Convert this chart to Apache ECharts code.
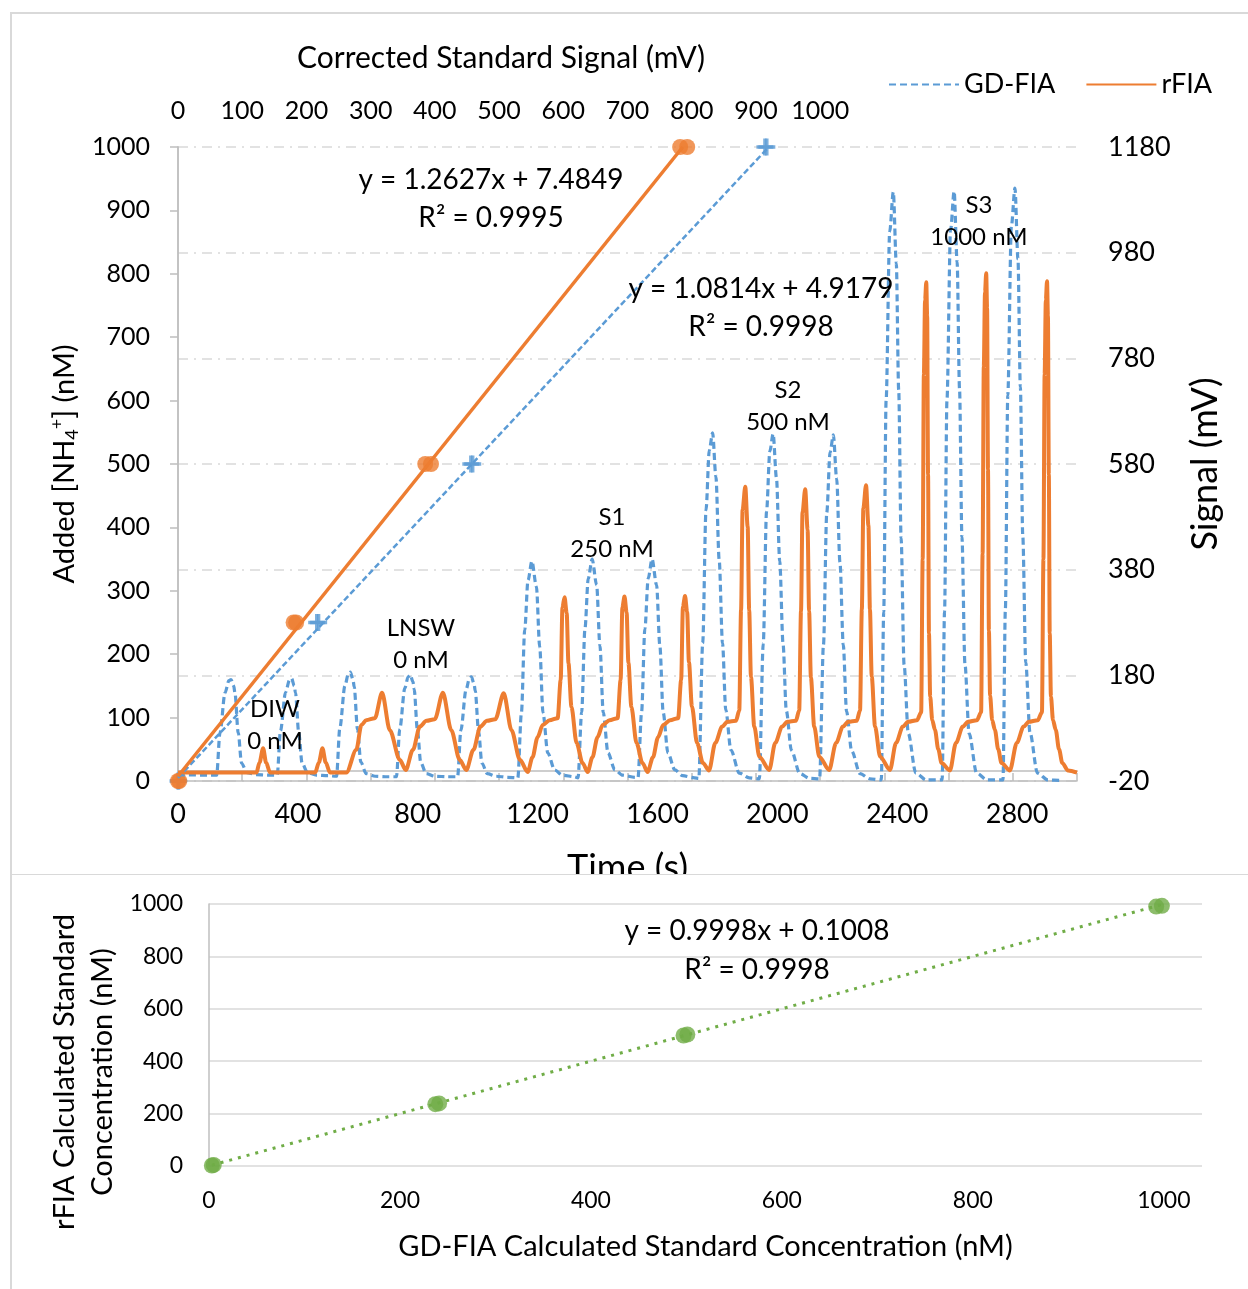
<!DOCTYPE html>
<html>
<head>
<meta charset="utf-8">
<script src="https://cdn.jsdelivr.net/npm/echarts@6/dist/echarts.min.js"></script>
<style>
  html, body { margin: 0; padding: 0; background: #fff; }
  #top { position: absolute; left: 0; top: 0; width: 1248px; height: 874px; }
  #bottom { position: absolute; left: 0; top: 874px; width: 1248px; height: 415px; }
</style>
</head>
<body>
<div id="top"></div>
<div id="bottom"></div>
<script>
const FONT = 'Lato'
const blue = '#5b9bd5', orange = '#ed7d31', green = '#70ad47'
const axisGray = '#bfbfbf', gridGray = '#d9d9d9'

// GD-FIA trace, [time (s), signal (mV)]
const gdfiaDIW = [
  [0, -8], [129, -9], [140, 71], [157, 147], [170, 170], [177, 172], [186, 160], [190, 147], [201, 71], [212, 14], [230, -4], [260, -8], [300, -9],
  [331, -9], [342, 75], [359, 148], [372, 171], [379, 174], [388, 160], [392, 147], [403, 71], [414, 14], [432, -4], [462, -9], [500, -10]
]
const gdfiaLNSW = [
  [529, -11], [540, 80], [557, 160], [568, 182], [575, 186], [584, 172], [588, 158], [599, 78], [610, 16], [628, -6], [658, -11], [700, -12],
  [729, -12], [740, 78], [757, 156], [768, 177], [775, 181], [784, 168], [788, 154], [799, 76], [810, 15], [828, -6], [858, -11], [900, -12],
  [933, -12], [944, 76], [961, 152], [972, 173], [979, 177], [988, 164], [992, 150], [1003, 74], [1014, 14], [1032, -6], [1062, -11], [1100, -13]
]
const gdfiaS1 = [
  [1134, -14], [1146, 109], [1157, 266], [1168, 360], [1181, 396], [1196, 348], [1207, 234], [1218, 109], [1234, 33], [1257, 1], [1283, -9], [1323, -12],
  [1335, -14], [1347, 110], [1358, 268], [1369, 363], [1382, 400], [1397, 351], [1408, 236], [1419, 110], [1435, 33], [1458, 1], [1484, -9], [1524, -13],
  [1535, -14], [1547, 110], [1558, 268], [1569, 363], [1582, 400], [1597, 351], [1608, 236], [1619, 110], [1635, 33], [1658, 1], [1684, -10], [1724, -14]
]
const gdfiaS2 = [
  [1738, -15], [1751, 241], [1762, 493], [1773, 606], [1784, 639], [1795, 556], [1806, 398], [1817, 241], [1828, 114], [1845, 39], [1873, -5], [1906, -14],
  [1940, -16], [1953, 240], [1964, 490], [1975, 604], [1986, 637], [1997, 554], [2008, 396], [2019, 240], [2030, 113], [2047, 38], [2075, -6], [2108, -15],
  [2141, -16], [2154, 238], [2165, 488], [2176, 602], [2187, 635], [2198, 552], [2209, 394], [2220, 238], [2231, 112], [2248, 37], [2276, -6], [2309, -16]
]
const gdfiaS3 = [
  [2347, -18], [2355, 300], [2363, 700], [2375, 1020], [2387, 1095], [2397, 960], [2405, 720], [2413, 440], [2423, 200], [2437, 70], [2462, -5], [2497, -18],
  [2550, -18], [2558, 300], [2566, 700], [2578, 1022], [2590, 1096], [2600, 962], [2608, 722], [2616, 442], [2626, 202], [2640, 70], [2665, -5], [2700, -18],
  [2753, -18], [2761, 305], [2769, 710], [2781, 1030], [2793, 1102], [2803, 968], [2811, 726], [2819, 445], [2829, 204], [2843, 72], [2868, -5], [2903, -18], [2950, -19]
]

// rFIA trace
const rfiaDIW = [
  [0, -4], [262, -4], [272, 15], [284, 42], [294, 15], [307, -4],
  [458, -4], [470, 15], [482, 42], [493, 15], [507, -4], [562, -4]
]
const rfiaLNSW = [
  [595, 39], [612, 86], [628, 95], [657, 99], [681, 147], [707, 76], [740, 20], [760, 1],
  [784, 39], [807, 83], [829, 94], [857, 97], [884, 147], [912, 76], [940, 20], [962, 1],
  [986, 39], [1009, 83], [1031, 94], [1059, 97], [1087, 146], [1113, 76], [1141, 20], [1167, -3]
]
const rfiaS1 = [
  [1183, 25], [1200, 63], [1217, 86], [1240, 95], [1267, 99], [1277, 171], [1283, 309], [1290, 328], [1297, 298], [1303, 203], [1313, 120], [1330, 52], [1350, 14], [1367, -3],
  [1383, 25], [1400, 63], [1417, 86], [1440, 95], [1467, 99], [1477, 171], [1483, 309], [1490, 329], [1497, 299], [1503, 204], [1513, 120], [1530, 52], [1550, 14], [1567, -3],
  [1585, 25], [1602, 63], [1619, 86], [1642, 95], [1669, 99], [1679, 171], [1685, 310], [1692, 330], [1699, 300], [1705, 205], [1715, 121], [1732, 52], [1752, 14], [1772, 0]
]
const rfiaS2 = [
  [1793, 52], [1816, 83], [1833, 92], [1862, 94], [1873, 114], [1879, 304], [1884, 493], [1893, 537], [1901, 461], [1906, 304], [1912, 177], [1923, 83], [1940, 26], [1973, 1],
  [1993, 52], [2016, 83], [2033, 92], [2062, 94], [2073, 114], [2079, 302], [2084, 488], [2093, 532], [2101, 456], [2106, 302], [2112, 176], [2123, 83], [2140, 26], [2173, 1],
  [2196, 52], [2219, 83], [2236, 92], [2265, 94], [2276, 114], [2282, 305], [2287, 496], [2296, 540], [2304, 463], [2309, 305], [2315, 178], [2326, 83], [2343, 26], [2376, 1]
]
const rfiaS3 = [
  [2396, 52], [2419, 83], [2436, 92], [2466, 95], [2480, 110], [2485, 400], [2489, 750], [2493, 890], [2497, 924], [2500, 860], [2503, 560], [2506, 260], [2510, 140], [2517, 95], [2526, 77], [2537, 40], [2548, 14], [2576, 0],
  [2596, 52], [2619, 83], [2636, 92], [2666, 95], [2680, 110], [2685, 410], [2689, 765], [2693, 905], [2697, 941], [2700, 875], [2703, 570], [2706, 265], [2710, 142], [2717, 95], [2726, 77], [2737, 40], [2748, 14], [2776, 0],
  [2799, 52], [2822, 83], [2839, 92], [2869, 95], [2883, 110], [2888, 400], [2892, 750], [2896, 890], [2900, 926], [2903, 860], [2906, 560], [2909, 260], [2913, 140], [2920, 95], [2929, 77], [2940, 40], [2951, 14], [2970, 0], [3000, -4]
]

// standards: corrected signal (mV) vs added NH4+ (nM)
const stdAdded = [0, 0, 250, 250, 500, 500, 1000, 1000]
const gdfiaStdSignal = [0, 1, 216, 219, 456, 459, 914, 917]
const rfiaStdSignal = [0, 2, 180, 184, 385, 394, 782, 793]
const gdfiaFit = [[0, 4.9], [920, 1000]]
const rfiaFit = [[0, 7.5], [786, 1000]]

// calculated concentrations (nM)
const gdfiaCalc = [3, 5, 237, 241, 497, 501, 992, 998]
const rfiaCalc = [2, 4, 236, 239, 498, 502, 990, 993]
const calcFit = [[3, 3.1], [998, 998]]

const topTickLabels = [0, 100, 200, 300, 400, 500, 600, 700, 800, 900, 1000]

const pairs = (xs, ys) => xs.map((x, i) => [x, ys[i]])
const plain = v => String(v)

const text = (str, x, y, size, extra) => Object.assign({
  type: 'text', x: x, y: y, z: 50,
  style: {text: str, fontSize: size, fontFamily: FONT, fill: '#000', align: 'center', verticalAlign: 'middle', lineHeight: 38}
}, extra || {})

const border = (y, h) => ({
  type: 'rect', z: 0, silent: true,
  shape: {x: 11, y: y, width: 1260, height: h},
  style: {fill: 'none', stroke: gridGray, lineWidth: 2}
})

const plus = 'path://M4,0H6V4H10V6H6V10H4V6H0V4H4Z'

const topChart = echarts.init(document.getElementById('top'))
topChart.setOption({
  animation: false,
  textStyle: {fontFamily: FONT, color: '#000'},
  legend: {
    data: ['GD-FIA', 'rFIA'],
    left: 888, top: 71, padding: 0,
    itemWidth: 70, itemHeight: 14, itemGap: 30,
    itemStyle: {opacity: 0},
    textStyle: {fontSize: 27, color: '#000', fontFamily: FONT}
  },
  grid: {left: 178, right: 171, top: 147, bottom: 93, outerBoundsMode: 'none', containLabel: false},
  xAxis: [
    {
      type: 'value', min: 0, max: 3000, interval: 400, position: 'bottom',
      axisLine: {show: true, onZero: true, onZeroAxisIndex: 1, lineStyle: {color: axisGray, width: 1.5}},
      axisTick: {show: false},
      splitLine: {show: false},
      axisLabel: {fontSize: 27, color: '#000', margin: 20, showMaxLabel: false, fontFamily: FONT, formatter: plain},
      name: 'Time (s)', nameLocation: 'middle', nameGap: 69,
      nameTextStyle: {fontSize: 36, color: '#000', fontFamily: FONT}
    },
    {
      type: 'value', min: 0, max: 1400, interval: 100, position: 'top',
      axisLine: {show: true, lineStyle: {color: axisGray, width: 1.5}},
      axisTick: {show: true, length: 8, lineStyle: {color: axisGray, width: 1.5}},
      splitLine: {show: false},
      axisLabel: {
        fontSize: 25, color: '#000', margin: 24, fontFamily: FONT,
        formatter: v => topTickLabels.indexOf(v) >= 0 ? String(v) : ''
      }
    }
  ],
  yAxis: [
    {
      type: 'value', min: 0, max: 1000, interval: 100, position: 'left',
      axisLine: {show: true, lineStyle: {color: axisGray, width: 1.5}},
      axisTick: {show: true, length: 8, lineStyle: {color: axisGray, width: 1.5}},
      splitLine: {show: false},
      axisLabel: {fontSize: 25, color: '#000', margin: 28, fontFamily: FONT, formatter: plain},
      name: 'Added [NH{sub|4}{sup|+}] (nM)', nameLocation: 'middle', nameRotate: 90, nameGap: 93,
      nameTextStyle: {
        fontSize: 29, color: '#000', fontFamily: FONT,
        rich: {
          sub: {fontSize: 18, fontFamily: FONT, color: '#000', padding: [15, 0, 0, 0]},
          sup: {fontSize: 18, fontFamily: FONT, color: '#000', padding: [0, 0, 15, 0]}
        }
      }
    },
    {
      type: 'value', min: -20, max: 1180, interval: 200, position: 'right',
      axisLine: {show: true, lineStyle: {color: axisGray, width: 1.5}},
      axisTick: {show: false},
      splitLine: {show: true, lineStyle: {color: gridGray, width: 1.5, type: [10, 6, 2, 6]}},
      axisLabel: {fontSize: 27, color: '#000', margin: 31, fontFamily: FONT, formatter: plain},
      name: 'Signal (mV)', nameLocation: 'middle', nameRotate: 90, nameGap: 110,
      nameTextStyle: {fontSize: 36, color: '#000', fontFamily: FONT}
    }
  ],
  series: [
    {
      name: 'GD-FIA', type: 'line', xAxisIndex: 0, yAxisIndex: 1,
      data: gdfiaDIW.concat(gdfiaLNSW, gdfiaS1, gdfiaS2, gdfiaS3),
      symbol: 'none', smooth: 0.3, smoothMonotone: 'x',
      lineStyle: {color: blue, width: 3.2, type: [7, 4]},
      itemStyle: {color: blue}
    },
    {
      name: 'rFIA', type: 'line', xAxisIndex: 0, yAxisIndex: 1,
      data: rfiaDIW.concat(rfiaLNSW, rfiaS1, rfiaS2, rfiaS3),
      symbol: 'none', smooth: 0.3, smoothMonotone: 'x',
      lineStyle: {color: orange, width: 4},
      itemStyle: {color: orange}
    },
    {
      name: 'GD-FIA fit', type: 'line', xAxisIndex: 1, yAxisIndex: 0,
      data: gdfiaFit, symbol: 'none',
      lineStyle: {color: blue, width: 2.5, type: [6, 3]}
    },
    {
      name: 'GD-FIA std', type: 'scatter', xAxisIndex: 1, yAxisIndex: 0,
      data: pairs(gdfiaStdSignal, stdAdded),
      symbol: plus, symbolSize: 17,
      itemStyle: {color: blue}
    },
    {
      name: 'rFIA fit', type: 'line', xAxisIndex: 1, yAxisIndex: 0,
      data: rfiaFit, symbol: 'none',
      lineStyle: {color: orange, width: 3.5}
    },
    {
      name: 'rFIA std', type: 'scatter', xAxisIndex: 1, yAxisIndex: 0,
      data: pairs(rfiaStdSignal, stdAdded),
      symbol: 'circle', symbolSize: 16,
      itemStyle: {color: orange}
    }
  ],
  graphic: [
    border(13, 900),
    text('Corrected Standard Signal (mV)', 501, 58, 30),
    text('y = 1.2627x + 7.4849', 491, 180, 28),
    text('R² = 0.9995', 491, 218, 28),
    text('y = 1.0814x + 4.9179', 761, 289, 28),
    text('R² = 0.9998', 761, 327, 28),
    text('DIW', 275, 709, 24),
    text('0 nM', 275, 741, 24),
    text('LNSW', 421, 628, 24),
    text('0 nM', 421, 660, 24),
    text('S1', 612, 517, 24),
    text('250 nM', 612, 549, 24),
    text('S2', 788, 390, 24),
    text('500 nM', 788, 422, 24),
    text('S3', 979, 205, 24),
    text('1000 nM', 979, 237, 24)
  ]
})

const bottomChart = echarts.init(document.getElementById('bottom'))
bottomChart.setOption({
  animation: false,
  textStyle: {fontFamily: FONT, color: '#000'},
  grid: {left: 209, right: 46, top: 30, bottom: 123, outerBoundsMode: 'none', containLabel: false},
  xAxis: {
    type: 'value', min: 0, max: 1040, interval: 200,
    axisLine: {show: false}, axisTick: {show: false}, splitLine: {show: false},
    axisLabel: {fontSize: 23, color: '#000', margin: 23, showMaxLabel: false, fontFamily: FONT, formatter: plain},
    name: 'GD-FIA Calculated Standard Concentration (nM)', nameLocation: 'middle', nameGap: 66,
    nameTextStyle: {fontSize: 29, color: '#000', fontFamily: FONT}
  },
  yAxis: {
    type: 'value', min: 0, max: 1000, interval: 200,
    axisLine: {show: true, lineStyle: {color: axisGray, width: 1.5}},
    axisTick: {show: false},
    splitLine: {show: true, lineStyle: {color: gridGray, width: 1.5}},
    axisLabel: {fontSize: 23, color: '#000', margin: 26, fontFamily: FONT, formatter: plain}
  },
  series: [
    {
      name: 'trend', type: 'line', data: calcFit, symbol: 'none',
      lineStyle: {color: green, width: 3, type: [3, 6]}
    },
    {
      name: 'calc', type: 'scatter', data: pairs(gdfiaCalc, rfiaCalc),
      symbol: 'circle', symbolSize: 16, itemStyle: {color: green}
    }
  ],
  graphic: [
    border(0, 430),
    text('rFIA Calculated Standard\nConcentration (nM)', 84, 198, 29, {rotation: Math.PI / 2}),
    text('y = 0.9998x + 0.1008', 757, 57, 28),
    text('R² = 0.9998', 757, 96, 28)
  ]
})
</script>
</body>
</html>
